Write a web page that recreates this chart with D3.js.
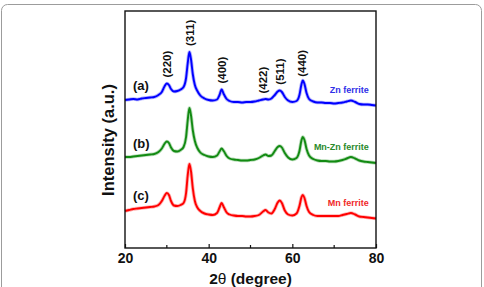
<!DOCTYPE html>
<html lang="en">
<head>
<meta charset="UTF-8">
<script src="https://d3js.org/d3.v7.min.js"></script>
<style>
  body { margin: 0; background: #fff; }
  svg { display: block; font-family: "Liberation Sans", Arial, sans-serif; font-weight: bold; }
</style>
</head>
<body>
<div id="chart"></div>
<script>
// 2theta sampling (degree)
const twoTheta = [20,21,22,23,24,25,26,27,28,28.8,29.5,30,30.5,31,31.7,32.5,33.3,34,34.6,35,35.4,35.8,36.2,36.7,37.3,38,39,40,41,42,42.6,43.1,43.6,44.3,45,46,47,48,49,50,51,52,53,53.6,54.3,55,55.8,56.5,57,57.5,58.2,59,60,61,61.7,62.2,62.5,62.9,63.4,64,65,66,67,68,69,70,71,72,73,74,75,76,77,78,79,80];

// Intensity (a.u.), stacked patterns
const znFerrite = [148,148.5,149,148.5,149.5,150,150.5,151,153,156,162,164.5,163,159,156.5,157,158.5,161,170,185,196,188,174,163,157,152.5,149.5,148,147.5,148.5,153,158.5,154,149,147,146,146,145.5,146,146,146.5,147.5,148.5,149,148.5,149.5,153,156.5,157.5,156,151,147.5,146,147,153,164,167.5,164,155,149,146.5,145.5,145.5,145,145,144.5,145,145.5,146.5,147.5,146,144,143.5,143.5,143,142.5];
const mnZnFerrite = [91,91,91.5,92,92.5,93,93.5,94,96,99.5,104.5,106.5,105,100.5,97,96.5,98,101,111,128,140,132,118,107,100,95.5,93,91.5,91,92.5,96.5,99.5,97,92,89.5,88.5,88,87.5,87.5,88,88.5,90,92.5,93.5,92,92.5,97,101,102,100.5,95,90.5,88.5,90,97,108,111,108,99,92.5,89,87.5,87,87,86.5,86.5,87,88,89.5,91,89.5,87.5,86.5,86,85.5,85];
const mnFerrite = [37,38,39,39.5,40,40.5,41,41.5,43,47,52.5,55,53,47,42.5,42,43,45,55,73,84,76,60,47,40.5,37,34.5,33.5,33,35,40.5,45,41,35.5,33.5,32.5,32,32,31.5,31.5,32,33,36.5,38,35.5,34.5,39,45.5,47.5,45,37.5,33.5,32.5,34.5,42,51,53,50,42,36,33,32,32,32,32,32,32,33,34,35,33.5,31.5,31,30.5,30,29.5];

const seriesNames = ["Zn ferrite", "Mn-Zn ferrite", "Mn ferrite"];
const seriesTags = ["(a)", "(b)", "(c)"];
const seriesColors = ["#0000ff", "#128a12", "#ff0000"];
const textColors = ["#3030e8", "#2a8a2a", "#f02828"];

// Reflections
const hkl = ["(220)", "(311)", "(400)", "(422)", "(511)", "(440)"];
const hklPos = [30, 35.4, 43.1, 53, 57.05, 62.3];

const xTicks = [20, 40, 60, 80];
const xMinorTicks = [30, 50, 70];

const width = 484, height = 287;
const margin = { left: 125, right: 108, top: 11, bottom: 39 };

const svg = d3.select("#chart").append("svg")
  .attr("width", width)
  .attr("height", height);

// outer panel border
svg.append("rect")
  .attr("x", 1.5).attr("y", 4.5)
  .attr("width", 480).attr("height", 310)
  .attr("rx", 6)
  .attr("fill", "none")
  .attr("stroke", "#9c9c9c")
  .attr("stroke-width", 1);

const x = d3.scaleLinear().domain([20, 80]).range([margin.left, width - margin.right]);
const y = d3.scaleLinear().domain([0, 237]).range([height - margin.bottom, margin.top]);

const line = d3.line()
  .x(d => x(d[0]))
  .y(d => y(d[1]))
  .curve(d3.curveMonotoneX);

const series = [znFerrite, mnZnFerrite, mnFerrite].map(vals => twoTheta.map((t, i) => [t, vals[i]]));

series.forEach((s, i) => {
  // soft halo for the noisy look of the raw scan
  svg.append("path")
    .datum(s)
    .attr("fill", "none")
    .attr("stroke", seriesColors[i])
    .attr("stroke-width", 3.6)
    .attr("stroke-opacity", 0.3)
    .attr("stroke-linejoin", "round")
    .attr("d", line);
  svg.append("path")
    .datum(s)
    .attr("fill", "none")
    .attr("stroke", seriesColors[i])
    .attr("stroke-width", 1.9)
    .attr("stroke-linejoin", "round")
    .attr("d", line);
});

// interpolate intensity along a series
function valueAt(vals, t) {
  const i = d3.bisectLeft(twoTheta, t);
  if (i <= 0) return vals[0];
  if (i >= twoTheta.length) return vals[vals.length - 1];
  const t0 = twoTheta[i - 1], t1 = twoTheta[i];
  const k = (t - t0) / (t1 - t0);
  return vals[i - 1] + k * (vals[i] - vals[i - 1]);
}

// left tags (a) (b) (c) and right sample names
[znFerrite, mnZnFerrite, mnFerrite].forEach((vals, i) => {
  svg.append("text")
    .attr("x", x(21.9))
    .attr("y", y(valueAt(vals, 22)) - 9)
    .attr("font-size", 13)
    .attr("fill", "#111")
    .text(seriesTags[i]);

  svg.append("text")
    .attr("x", x(78.3))
    .attr("y", y(valueAt(vals, 77)) - 11.5)
    .attr("text-anchor", "end")
    .attr("font-size", 9)
    .attr("fill", textColors[i])
    .text(seriesNames[i]);
});

// hkl labels above top pattern
hkl.forEach((lab, i) => {
  const px = x(hklPos[i]);
  const py = y(valueAt(znFerrite, hklPos[i])) - 6;
  svg.append("text")
    .attr("transform", `translate(${px},${py}) rotate(-90)`)
    .attr("dy", "0.36em")
    .attr("font-size", 11.5)
    .attr("fill", "#111")
    .text(lab);
});

// frame
svg.append("rect")
  .attr("x", margin.left).attr("y", margin.top)
  .attr("width", width - margin.left - margin.right)
  .attr("height", height - margin.top - margin.bottom)
  .attr("fill", "none")
  .attr("stroke", "#111")
  .attr("stroke-width", 1.4);

// bottom axis, ticks inside
const xAxis = d3.axisBottom(x).tickValues(xTicks).tickSizeInner(-4).tickSizeOuter(0).tickPadding(5);
const gx = svg.append("g")
  .attr("transform", `translate(0,${height - margin.bottom})`)
  .call(xAxis);
gx.select(".domain").remove();
gx.selectAll(".tick line").attr("stroke", "#111").attr("stroke-width", 1.2);
gx.selectAll(".tick text")
  .attr("font-family", "Liberation Sans, Arial, sans-serif")
  .attr("font-weight", "bold")
  .attr("font-size", 14)
  .attr("fill", "#111");

svg.append("g")
  .selectAll("line")
  .data(xMinorTicks)
  .join("line")
  .attr("x1", d => x(d)).attr("x2", d => x(d))
  .attr("y1", height - margin.bottom).attr("y2", height - margin.bottom - 3)
  .attr("stroke", "#111")
  .attr("stroke-width", 1.2);

// axis titles
svg.append("text")
  .attr("x", x(50))
  .attr("y", 284)
  .attr("text-anchor", "middle")
  .attr("font-size", 15.5)
  .attr("fill", "#111")
  .html('2<tspan font-weight="normal">θ</tspan> (degree)');

svg.append("text")
  .attr("transform", `translate(114,140) rotate(-90)`)
  .attr("text-anchor", "middle")
  .attr("font-size", 16.5)
  .attr("fill", "#111")
  .text("Intensity (a.u.)");
</script>
</body>
</html>
